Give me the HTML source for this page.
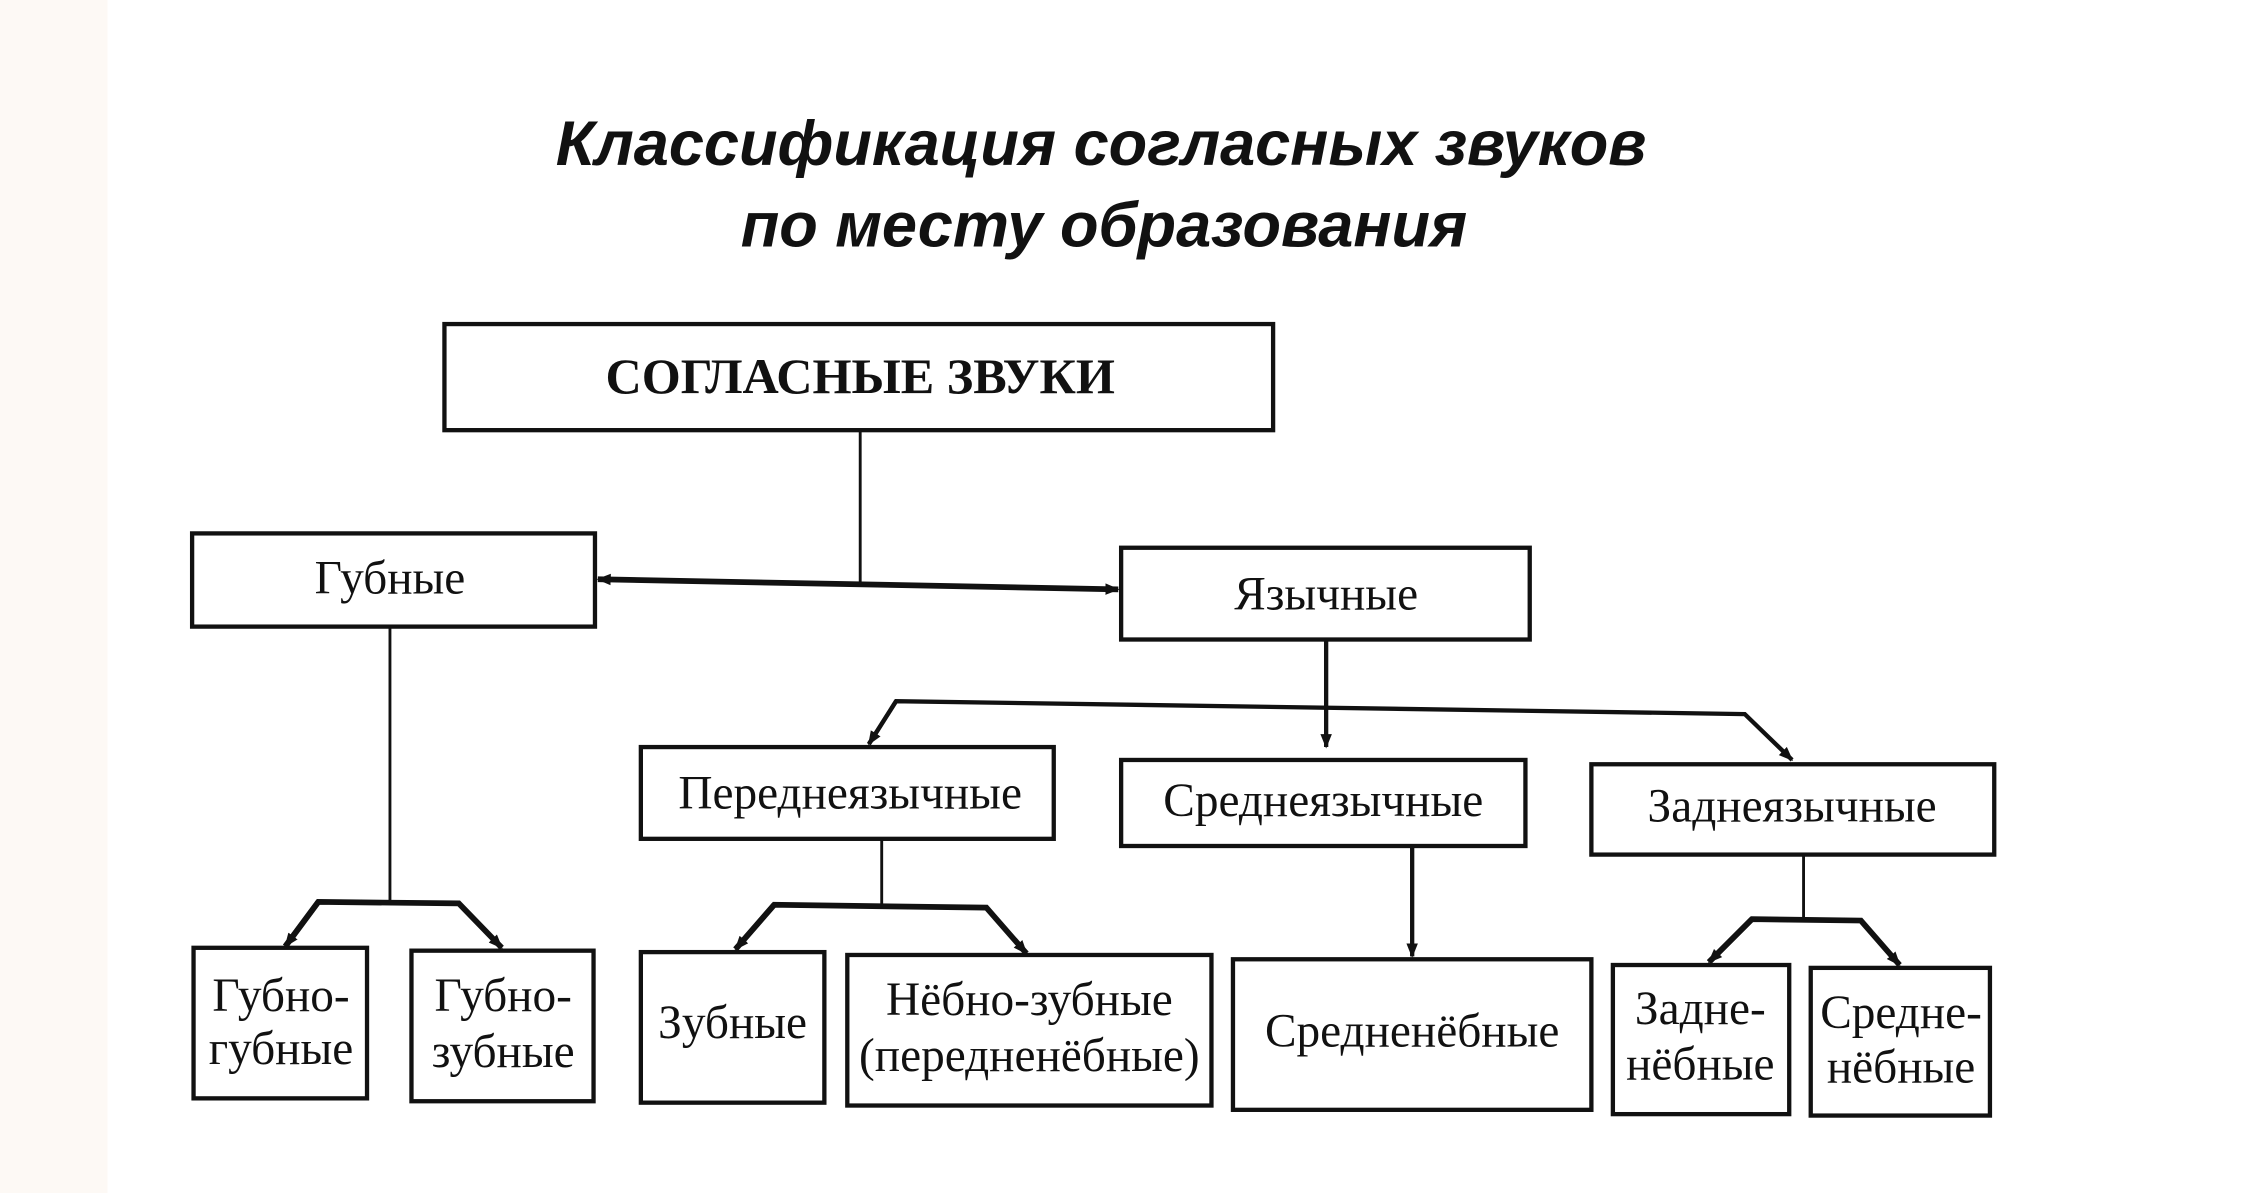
<!DOCTYPE html>
<html><head><meta charset="utf-8"><style>
html,body{margin:0;padding:0;background:#fff;}
svg{display:block;}
text{font-family:"Liberation Serif",serif;fill:#111;}
</style></head><body>
<svg width="2248" height="1193" viewBox="0 0 1568 832" preserveAspectRatio="none" xmlns="http://www.w3.org/2000/svg">
<defs>
<marker id="a" markerWidth="10" markerHeight="10" refX="9" refY="5" orient="auto" markerUnits="userSpaceOnUse"><path d="M0,1 L10,5 L0,9 Z" fill="#111"/></marker>
<marker id="s" markerWidth="10" markerHeight="10" refX="1" refY="5" orient="auto" markerUnits="userSpaceOnUse"><path d="M10,1 L0,5 L10,9 Z" fill="#111"/></marker>
</defs>
<rect x="0" y="0" width="75" height="832" fill="#fdf9f5"/>
<g font-weight="bold" font-style="italic" font-size="44" text-anchor="middle">
<text x="768" y="115" style="font-family:'Liberation Sans',sans-serif">Классификация согласных звуков</text>
<text x="770" y="172" style="font-family:'Liberation Sans',sans-serif">по месту образования</text>
</g>
<g fill="#fff" stroke="#111" stroke-width="3">
<rect x="310" y="226" width="578" height="74"/>
<rect x="134" y="372" width="281" height="65"/>
<rect x="782" y="382" width="285" height="64"/>
<rect x="447" y="521" width="288" height="64"/>
<rect x="782" y="530" width="282" height="60"/>
<rect x="1110" y="533" width="281" height="63"/>
<rect x="135" y="661" width="121" height="105"/>
<rect x="287" y="663" width="127" height="105"/>
<rect x="447" y="664" width="128" height="105"/>
<rect x="591" y="666" width="254" height="105"/>
<rect x="860" y="669" width="250" height="105"/>
<rect x="1125" y="673" width="123" height="104"/>
<rect x="1263" y="675" width="125" height="103"/>
</g>
<g stroke="#111" fill="none">
<line x1="600" y1="300" x2="600" y2="406" stroke-width="2"/>
<line x1="417" y1="404" x2="780" y2="411" stroke-width="4" marker-start="url(#s)" marker-end="url(#a)"/>
<line x1="925" y1="446" x2="925" y2="521" stroke-width="3" marker-end="url(#a)"/>
<polyline points="606,519 625,489 1217,498 1250,530" stroke-width="3" marker-end="url(#a)"/>
<line x1="625" y1="489" x2="606" y2="519" stroke-width="3" marker-end="url(#a)"/>
<line x1="272" y1="437" x2="272" y2="629" stroke-width="2"/>
<polyline points="199,660 222,629 320,630 350,661" stroke-width="4" marker-end="url(#a)"/>
<line x1="222" y1="629" x2="199" y2="660" stroke-width="4" marker-end="url(#a)"/>
<line x1="615" y1="585" x2="615" y2="632" stroke-width="2"/>
<polyline points="513,662 540,631 688,633 716,665" stroke-width="4" marker-end="url(#a)"/>
<line x1="540" y1="631" x2="513" y2="662" stroke-width="4" marker-end="url(#a)"/>
<line x1="985" y1="590" x2="985" y2="667" stroke-width="3" marker-end="url(#a)"/>
<line x1="1258" y1="596" x2="1258" y2="641" stroke-width="2"/>
<polyline points="1192,671 1222,641 1298,642 1325,673" stroke-width="4" marker-end="url(#a)"/>
<line x1="1222" y1="641" x2="1192" y2="671" stroke-width="4" marker-end="url(#a)"/>
</g>
<g font-size="33" text-anchor="middle">
<text x="600" y="274" font-weight="bold" font-size="35">СОГЛАСНЫЕ ЗВУКИ</text>
<text x="272" y="414">Губные</text>
<text x="925" y="425">Язычные</text>
<text x="593" y="564">Переднеязычные</text>
<text x="923" y="569">Среднеязычные</text>
<text x="1250" y="573">Заднеязычные</text>
<text x="196" y="705">Губно-</text>
<text x="196" y="742">губные</text>
<text x="351" y="705">Губно-</text>
<text x="351" y="744">зубные</text>
<text x="511" y="724">Зубные</text>
<text x="718" y="708">Нёбно-зубные</text>
<text x="718" y="747">(передненёбные)</text>
<text x="985" y="730">Средненёбные</text>
<text x="1186" y="714">Задне-</text>
<text x="1186" y="753">нёбные</text>
<text x="1326" y="717">Средне-</text>
<text x="1326" y="755">нёбные</text>
</g>
</svg>
</body></html>
